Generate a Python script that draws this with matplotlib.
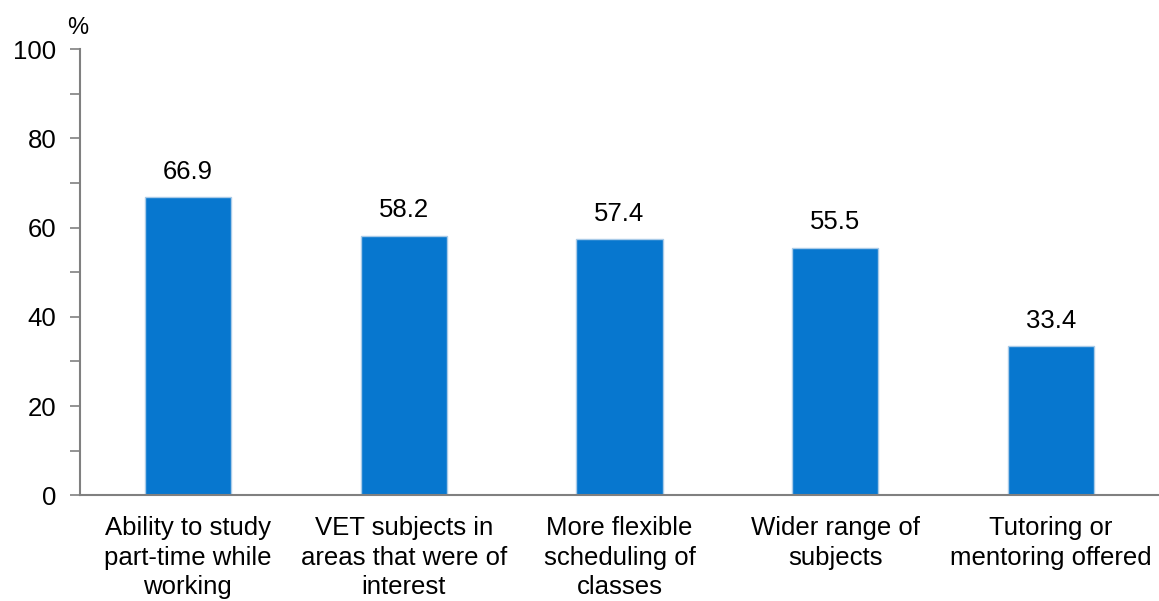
import matplotlib
matplotlib.use("Agg")
import matplotlib.pyplot as plt
from matplotlib.ticker import MultipleLocator

categories = ["Ability to study\npart-time while\nworking",
              "VET subjects in\nareas that were of\ninterest",
              "More flexible\nscheduling of\nclasses",
              "Wider range of\nsubjects",
              "Tutoring or\nmentoring offered"]
values = [66.9, 58.2, 57.4, 55.5, 33.4]
yticks = [0, 20, 40, 60, 80, 100]

plt.rcParams['font.family'] = ['Liberation Sans', 'DejaVu Sans']
fig = plt.figure(figsize=(11.59, 6.01), dpi=100)
ax = fig.add_axes([0.069, 0.176, 0.931, 0.742])

x = list(range(len(categories)))
ax.bar(x, values, width=0.4, color='#0777CF', edgecolor='#A9CBE8', linewidth=1.0)
for xi, v in zip(x, values):
    ax.text(xi, v + 3.0, f"{v:.1f}", ha='center', va='bottom', fontsize=18.5)

ax.set_xlim(-0.5, len(categories) - 0.5)
ax.set_ylim(0, 100)
ax.set_yticks(yticks)
ax.yaxis.set_minor_locator(MultipleLocator(10))
ax.set_xticks(x)
ax.set_xticklabels(categories, fontsize=18.5, linespacing=1.3)
ax.tick_params(axis='x', length=0, pad=15)
ax.tick_params(axis='y', which='major', length=7, width=1.2, color='#808080', labelsize=18.5, pad=10)
ax.tick_params(axis='y', which='minor', length=7, width=1.2, color='#808080')
for s in ['top', 'right']:
    ax.spines[s].set_visible(False)
for s in ['left', 'bottom']:
    ax.spines[s].set_color('#808080')
    ax.spines[s].set_linewidth(1.5)
ax.text(-0.002, 1.022, "%", transform=ax.transAxes, ha='center', va='bottom', fontsize=17)

fig.savefig("out.png", dpi=100)
